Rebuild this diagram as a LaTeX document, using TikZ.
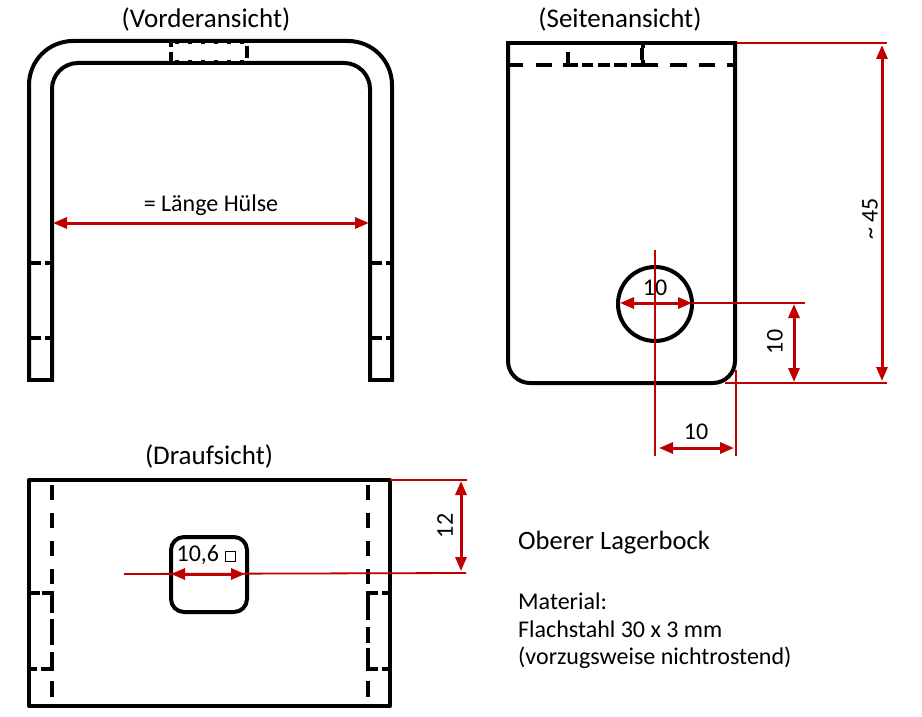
\documentclass[tikz,border=0pt]{standalone}
\usepackage{fontspec}
\setmainfont{Carlito}
\usetikzlibrary{arrows.meta}
\definecolor{dimred}{HTML}{C00000}
\tikzset{
  x=1pt,y=-1pt,
  part/.style={draw=black,line width=4pt,line cap=butt,line join=round},
  hidden/.style={draw=black,line width=4pt,dash pattern=on 15pt off 13pt},
  hiddenshort/.style={draw=black,line width=3.6pt,dash pattern=on 12pt off 4pt on 6pt off 10pt},
  notchline/.style={draw=black,line width=3.6pt},
  aux/.style={draw=dimred,line width=1.8pt},
  dimline/.style={draw=dimred,line width=3pt,{Stealth[length=14pt,width=11pt,inset=0pt]}-{Stealth[length=14pt,width=11pt,inset=0pt]}},
  lab/.style={font=\fontsize{24}{26}\selectfont,inner sep=0pt,text=black},
  title/.style={font=\fontsize{27}{29}\selectfont,inner sep=0pt,text=black},
  bodytext/.style={font=\fontsize{24}{29}\selectfont,inner sep=0pt,text=black,anchor=west},
}
\begin{document}
\begin{tikzpicture}
\useasboundingbox (0,0) rectangle (922,717);
% titles
\node[title] (tfront) at (206,19) {(Vorderansicht)};
\node[title] (tside) at (620,19) {(Seitenansicht)};
\node[title] (ttop) at (209,456) {(Draufsicht)};
% front view
\draw[part,rounded corners=44pt] (29,381) -- (29,41) -- (392,41) -- (392,381);
\draw[part,rounded corners=26pt] (52,381) -- (52,63) -- (370,63) -- (370,381);
\draw[part] (27,380) -- (54,380) (368,380) -- (394,380);
\fill[white] (173,43) rectangle (245,61);
\draw[notchline] (171,40) -- (171,47) (171,52) -- (171,61) (247,46) -- (247,58);
\draw[draw=black,line width=1.6pt,dash pattern=on 4pt off 9pt] (175,43) -- (245,43) (175,61) -- (245,61);
\draw[hiddenshort] (29,263) -- (52,263) (370,263) -- (392,263);
\draw[hiddenshort] (29,338) -- (52,338) (370,338) -- (392,338);
\coordinate (fl) at (53,223);
\coordinate (fr) at (369,223);
\draw[dimline] (fl) -- (fr);
\node[lab] (lfront) at (211,205) {= Länge Hülse};
% side view
\draw[part,rounded corners=22pt] (508,43) -- (508,383) -- (735,383) -- (735,43);
\draw[part] (506,43) -- (737,43);
\draw[notchline] (507,65) -- (523,65) (536,65) -- (552,65) (563,65) -- (578,65) (582,65) -- (593,65) (598,65) -- (610,65) (614,65) -- (627,65) (631,65) -- (658,65) (670,65) -- (687,65) (699,65) -- (715,65) (727,65) -- (735,65);
\draw[notchline] (568,52) -- (568,65) (643,43) -- (643,48) (642,48) -- (642,60) (643,60) -- (643,65);
\draw[draw=black,line width=4pt] (655,304) circle[radius=37];
\coordinate (vtop) at (655,250);
\coordinate (vbot) at (655,456);
\coordinate (rtop) at (736,370);
\coordinate (rbot) at (736,456);
\draw[aux] (vtop) -- (vbot);
\draw[aux] (rtop) -- (rbot);
\draw[aux] (692,303) -- (805,303);
\draw[aux] (725,383) -- (887,383);
\draw[aux] (737,43) -- (887,43);
\draw[dimline] (620,303) -- (692,303);
\draw[dimline] (794,304) -- (794,382);
\draw[dimline] (882,45) -- (882,381);
\draw[dimline] (659,448) -- (734,448);
\node[lab] (ld1) at (655,288) {10};
\node[lab,rotate=90] (ld2) at (775,342) {10};
\node[lab,rotate=90] (ld3) at (870,219) {\symbol{126} 45};
\node[lab] (ld4) at (696,432) {10};
% top view
\draw[part] (29,480) rectangle (390,706);
\draw[hidden] (52,485) -- (52,585);
\draw[hidden] (368,485) -- (368,585);
\draw[notchline] (52,591) -- (52,613) (52,619) -- (52,645) (52,652) -- (52,671) (52,681) -- (52,697);
\draw[notchline] (368,591) -- (368,620) (368,627) -- (368,643) (368,648) -- (368,671) (368,681) -- (368,697);
\draw[notchline] (30,593) -- (40,593) (42,593) -- (54,593) (30,669) -- (37,669) (41,669) -- (54,669);
\draw[notchline] (366,593) -- (378,593) (382,593) -- (388,593) (366,669) -- (378,669) (382,669) -- (388,669);
\draw[part,rounded corners=13pt] (171,537) rectangle (247,612);
\draw[aux] (124,574) -- (466,573);
\draw[aux] (390,480) -- (467,480);
\draw[dimline] (171,574) -- (245,574);
\draw[dimline] (461,481) -- (461,571);
\node[lab] (lhole) at (206,555) {10,6 \tikz[baseline=0pt,x=1pt,y=1pt]\draw[line width=0.8pt] (0,0) rectangle (10,10);};
\node[lab,rotate=90] (l12) at (445,526) {12};
% text
\node[bodytext,font=\fontsize{26.5}{28}\selectfont] (tname) at (518,543) {Oberer Lagerbock};
\node[bodytext] (tm1) at (518,601) {Material:};
\node[bodytext] (tm2) at (518,629) {Flachstahl 30 x 3 mm};
\node[bodytext] (tm3) at (518,658) {(vorzugsweise nichtrostend)};
\end{tikzpicture}
\end{document}
